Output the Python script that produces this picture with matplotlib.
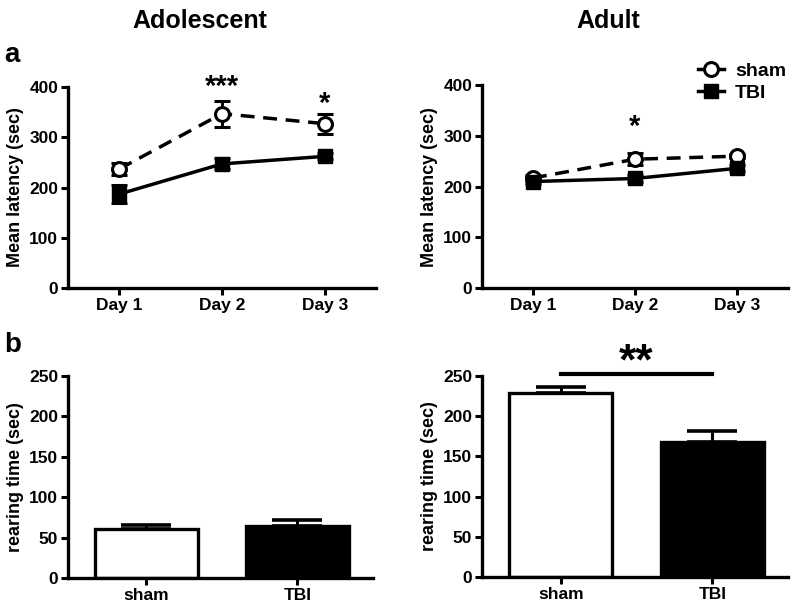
import numpy as np
import matplotlib.pyplot as plt
from matplotlib.lines import Line2D

plt.rcParams['font.family'] = ['Liberation Sans', 'DejaVu Sans']
plt.rcParams['font.weight'] = 'bold'

days = [1, 2, 3]
day_labels = ['Day 1', 'Day 2', 'Day 3']

# latency (sec), mean and error
adol_sham = [237, 347, 327]
adol_sham_err = [12, 26, 20]
adol_tbi = [187, 247, 262]
adol_tbi_err = [18, 11, 6]

adult_sham = [217, 254, 260]
adult_sham_err = [5, 12, 4]
adult_tbi = [210, 216, 236]
adult_tbi_err = [5, 6, 6]

# rearing time (sec)
groups = ['sham', 'TBI']
adol_rear = [60, 64]
adol_rear_err = [6, 8]
adult_rear = [229, 168]
adult_rear_err = [7, 13]


def style_axes(ax):
    for s in ['top', 'right']:
        ax.spines[s].set_visible(False)
    for s in ['left', 'bottom']:
        ax.spines[s].set_linewidth(2.4)
    ax.tick_params(width=2.2, length=5, labelsize=12.5, pad=2)
    for lab in ax.get_xticklabels() + ax.get_yticklabels():
        lab.set_fontweight('bold')


def line_panel(ax, sham, sham_err, tbi, tbi_err):
    ax.errorbar(days, sham, yerr=sham_err, fmt='o', ls='--', color='black', mfc='white',
                mec='black', mew=2.2, ms=10, lw=2.5, capsize=6, elinewidth=2.2, capthick=2.2,
                dashes=(4, 2.5), zorder=3)
    ax.errorbar(days, tbi, yerr=tbi_err, fmt='s', ls='-', color='black', ms=9.5, lw=2.5,
                capsize=6, elinewidth=2.2, capthick=2.2, zorder=4)
    ax.set_xlim(0.5, 3.5)
    ax.set_ylim(0, 400)
    ax.set_yticks([0, 100, 200, 300, 400])
    ax.set_xticks(days)
    ax.set_xticklabels(day_labels)
    ax.set_ylabel('Mean latency (sec)', fontsize=13, fontweight='bold', labelpad=4)
    style_axes(ax)


def bar_panel(ax, vals, errs):
    x = np.arange(len(groups))
    ax.bar(x, vals, width=0.68, color=['white', 'black'], edgecolor='black', linewidth=2.4,
           zorder=2)
    ax.errorbar(x, vals, yerr=[[0, 0], errs], fmt='none', ecolor='black', elinewidth=2.2,
                capsize=18, capthick=2.6, zorder=1)
    ax.set_xlim(-0.52, 1.5)
    ax.set_ylim(0, 250)
    ax.set_yticks([0, 50, 100, 150, 200, 250])
    ax.set_xticks(x)
    ax.set_xticklabels(groups)
    ax.set_ylabel('rearing time (sec)', fontsize=13, fontweight='bold', labelpad=4)
    style_axes(ax)


fig = plt.figure(figsize=(8, 6.11), dpi=100)
ax1 = fig.add_axes([0.085, 0.5286, 0.385, 0.329])
ax2 = fig.add_axes([0.6025, 0.5286, 0.3825, 0.332])
ax3 = fig.add_axes([0.085, 0.054, 0.381, 0.331])
ax4 = fig.add_axes([0.6025, 0.0556, 0.3825, 0.329])

line_panel(ax1, adol_sham, adol_sham_err, adol_tbi, adol_tbi_err)
line_panel(ax2, adult_sham, adult_sham_err, adult_tbi, adult_tbi_err)
bar_panel(ax3, adol_rear, adol_rear_err)
bar_panel(ax4, adult_rear, adult_rear_err)

# significance marks
ax1.text(2, 400, '***', ha='center', va='center', fontsize=21, fontweight='bold', clip_on=False)
ax1.text(3, 366, '*', ha='center', va='center', fontsize=21, fontweight='bold', clip_on=False)
ax2.text(2, 318, '*', ha='center', va='center', fontsize=21, fontweight='bold', clip_on=False)
ax4.plot([0, 1], [253, 253], color='black', lw=3, clip_on=False)
ax4.text(0.5, 266, '**', ha='center', va='center', fontsize=32, fontweight='bold', clip_on=False)

handles = [Line2D([], [], color='black', lw=2.5, marker='o', ms=10, mfc='white', mew=2.2),
           Line2D([], [], color='black', lw=2.5, marker='s', ms=9.5)]
leg = ax2.legend(handles, ['sham', 'TBI'], loc='upper right', bbox_to_anchor=(1.02, 1.15),
                 frameon=False, fontsize=14, handlelength=1.3, handletextpad=0.6,
                 labelspacing=0.2, borderaxespad=0)
for t in leg.get_texts():
    t.set_fontweight('bold')

fig.text(0.25, 0.965, 'Adolescent', ha='center', va='center', fontsize=18, fontweight='bold')
fig.text(0.76, 0.965, 'Adult', ha='center', va='center', fontsize=18, fontweight='bold')
fig.text(0.005, 0.91, 'a', ha='left', va='center', fontsize=20, fontweight='bold')
fig.text(0.005, 0.435, 'b', ha='left', va='center', fontsize=20, fontweight='bold')

fig.savefig('out.png', dpi=100, facecolor='white')
